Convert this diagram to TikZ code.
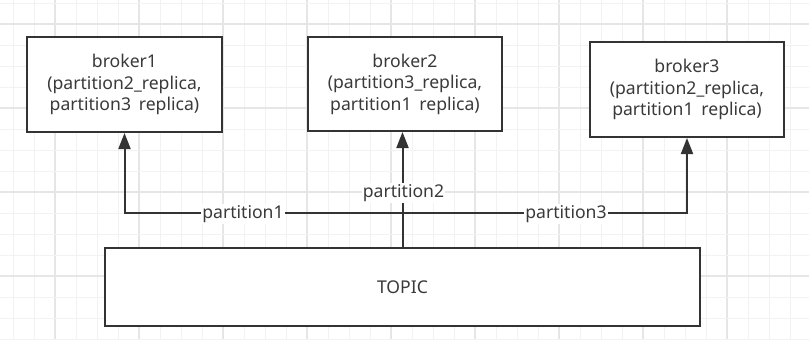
\documentclass[tikz,border=0pt]{standalone}
\usepackage{fontspec}
\setmainfont{Noto Sans}
\usetikzlibrary{arrows.meta}
\definecolor{ink}{HTML}{333333}
\definecolor{txt}{HTML}{3A3A3A}
\definecolor{gridminor}{HTML}{F2F2F2}
\definecolor{gridmajor}{HTML}{E6E6E6}
\tikzset{
  box/.style={draw=ink, line width=2pt, fill=white, text=txt, align=center,
    inner sep=0pt, font=\fontsize{17.6}{21.5}\selectfont},
  edge/.style={draw=ink, line width=2pt, -{Triangle[length=16pt,width=12pt]}},
  lbl/.style={fill=white, text=txt, inner sep=1pt, font=\fontsize{17.6}{21.5}\selectfont}
}
% gap left where the second underscore is not shown
\newcommand{\ugap}{\hphantom{\_}}
\begin{document}
\begin{tikzpicture}[x=1pt, y=-1pt]
  \useasboundingbox (0,0) rectangle (809,340);
  \fill[white] (0,0) rectangle (809,340);
  % background grid, every fourth line a shade darker
  \foreach \k in {0,...,37} {
    \pgfmathtruncatemacro{\m}{mod(\k,4)}
    \ifnum\m=2
      \draw[gridmajor, line width=1.2pt] ({13+21*\k},0) -- ({13+21*\k},340);
    \else
      \draw[gridminor, line width=1pt] ({13+21*\k},0) -- ({13+21*\k},340);
    \fi
  }
  \foreach \k in {0,...,16} {
    \pgfmathtruncatemacro{\m}{mod(\k,4)}
    \ifnum\m=1
      \draw[gridmajor, line width=1.2pt] (0,{3+21*\k}) -- (809,{3+21*\k});
    \else
      \draw[gridminor, line width=1pt] (0,{3+21*\k}) -- (809,{3+21*\k});
    \fi
  }

  % brokers
  \node[box, minimum width=195pt, minimum height=95pt] (b1) at (124.5,84.5)
    {broker1\\(partition2\_replica,\\partition3\ugap replica)};
  \node[box, minimum width=194pt, minimum height=94pt] (b2) at (405,84)
    {broker2\\(partition3\_replica,\\partition1\ugap replica)};
  \node[box, minimum width=194pt, minimum height=95pt] (b3) at (687,89.5)
    {broker3\\(partition2\_replica,\\partition1\ugap replica)};

  % topic
  \node[box, minimum width=595pt, minimum height=78pt] (topic) at (402.5,287) {TOPIC};

  % branching point above the topic
  \coordinate (j) at (topic.north |- 0,213);

  % connectors
  \draw[edge] (topic.north) -- (j) -| (b1.south);
  \draw[edge] (topic.north) -- (j) -| (b3.south);
  \draw[edge] (topic.north) -- (topic.north |- b2.south);

  % labels
  \node[lbl] (l1) at (243,214) {partition1};
  \node[lbl] (l2) at (403.5,193) {partition2};
  \node[lbl] (l3) at (566,214) {partition3};
\end{tikzpicture}
\end{document}
